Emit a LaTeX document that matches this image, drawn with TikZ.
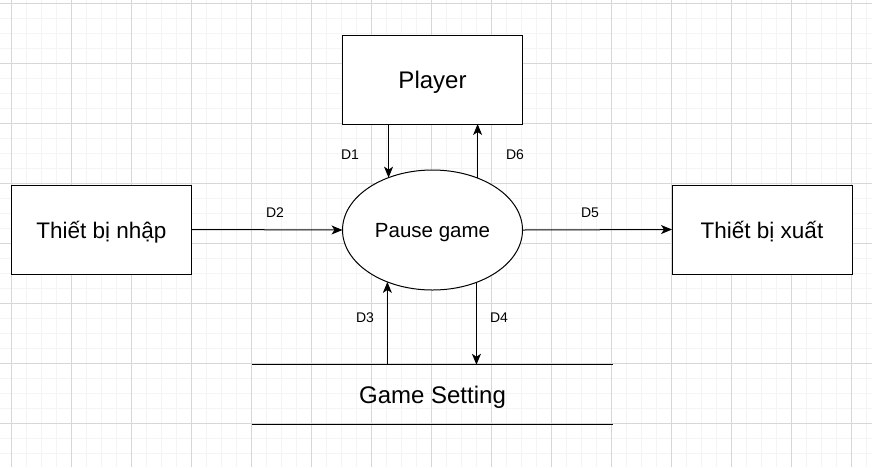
\documentclass[tikz,border=0pt]{standalone}
\usepackage{fontspec}
\setmainfont{Liberation Sans}
\usetikzlibrary{arrows.meta,shapes.geometric}
\definecolor{minorgrid}{RGB}{244,244,244}
\definecolor{majorgrid}{RGB}{215,215,215}
\tikzset{
  box/.style={draw, line width=1pt, minimum width=180pt, minimum height=89pt, inner sep=0pt, outer sep=0pt, text depth=0pt, font=\fontsize{22.5}{26}\selectfont},
  proc/.style={draw, ellipse, line width=1pt, minimum width=180pt, minimum height=120pt, inner sep=0pt, outer sep=0pt, text depth=0pt, font=\fontsize{20.5}{24}\selectfont},
  flow/.style={line width=1pt, -{Stealth[length=11pt,width=9pt,inset=3pt]}},
  lbl/.style={font=\fontsize{14}{17}\selectfont, inner sep=0pt},
}
\begin{document}
\begin{tikzpicture}[x=1pt,y=-1pt]
\useasboundingbox (0,0) rectangle (872,467);
\fill[white] (0,0) rectangle (872,467);
% minor grid
\foreach \i in {0,...,58} {\draw[minorgrid, line width=1pt] ({11+15*\i-15},0) -- ({11+15*\i-15},467);}
\foreach \j in {0,...,31} {\draw[minorgrid, line width=1pt] (0,{3+15*\j}) -- (872,{3+15*\j});}
% major grid
\foreach \i in {0,...,14} {\draw[majorgrid, line width=1pt] ({11+60*\i},0) -- ({11+60*\i},467);}
\foreach \j in {0,...,7} {\draw[majorgrid, line width=1pt] (0,{3+60*\j}) -- (872,{3+60*\j});}

\node[box, fill=white, font=\fontsize{24}{28}\selectfont] (pl) at (432.5,79.5) {Player};
\node[box, fill=white] (in) at (101.5,229.5) {Thiết bị nhập};
\node[box, fill=white] (out) at (762,229.5) {Thiết bị xuất};
\node[proc, fill=white] (pg) at (432.5,230) {Pause game};
\node[minimum width=361pt, minimum height=59.5pt, inner sep=0pt, outer sep=0pt, text depth=0pt, font=\fontsize{24}{28}\selectfont] (gs) at (432.5,394.5) {Game Setting};
\draw[line width=1pt] (gs.north west) -- (gs.north east);
\draw[line width=1pt] (gs.south west) -- (gs.south east);

\draw[flow] (pl.south -| pg.130.5) -- (pg.130.5);
\draw[flow] (pg.49.5) -- (pg.49.5 |- pl.south);
\draw[flow] (in.east) -- (pg.west);
\draw[flow] (pg.east) -- (out.west);
\draw[flow] (gs.north -| pg.229.5) -- (pg.229.5);
\draw[flow] (pg.310.5) -- (pg.310.5 |- gs.north);

\node[lbl] (d1) at (350,155) {D1};
\node[lbl] (d6) at (515,155) {D6};
\node[lbl] (d2) at (275,213) {D2};
\node[lbl] (d5) at (590,213) {D5};
\node[lbl] (d3) at (365,318) {D3};
\node[lbl] (d4) at (499,318) {D4};
\end{tikzpicture}
\end{document}
